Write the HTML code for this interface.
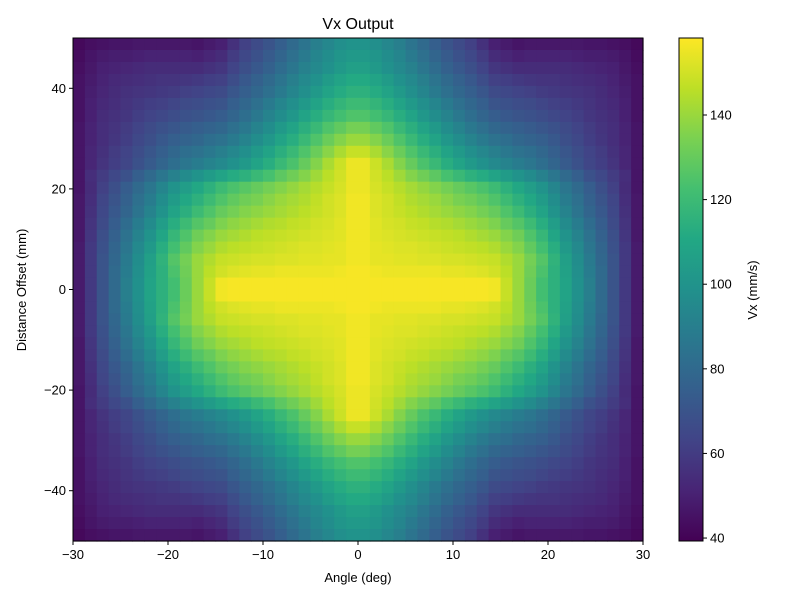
<!DOCTYPE html>
<html><head><meta charset="utf-8"><style>
body{margin:0;background:#fff}
svg{display:block;font-family:"Liberation Sans","DejaVu Sans",sans-serif}
</style></head><body>
<svg id="chart" width="800" height="600" viewBox="0 0 800 600">
<rect width="800" height="600" fill="#fff"/>
<text x="358" y="29" font-size="16" text-anchor="middle">Vx Output</text>
<g id="cells"></g>
<rect x="73" y="38" width="570" height="503" fill="none" stroke="#000" stroke-width="1"/>
<g id="xticks"></g>
<g id="yticks"></g>
<text x="358" y="582" font-size="13" text-anchor="middle">Angle (deg)</text>
<text transform="translate(26,290) rotate(-90)" font-size="13" text-anchor="middle">Distance Offset (mm)</text>
<defs><linearGradient id="cbg" x1="0" y1="1" x2="0" y2="0">
<stop offset="0" stop-color="#440154"/><stop offset="0.1" stop-color="#482475"/><stop offset="0.2" stop-color="#414487"/><stop offset="0.3" stop-color="#355f8d"/><stop offset="0.4" stop-color="#2a788e"/><stop offset="0.5" stop-color="#21918c"/><stop offset="0.6" stop-color="#22a884"/><stop offset="0.7" stop-color="#44bf70"/><stop offset="0.8" stop-color="#7ad151"/><stop offset="0.9" stop-color="#bddf26"/><stop offset="1" stop-color="#fde725"/>
</linearGradient></defs>
<rect x="679" y="38" width="24" height="503" fill="url(#cbg)" stroke="#000" stroke-width="1"/>
<g id="cbticks"></g>
<text transform="translate(757,290) rotate(-90)" font-size="13" text-anchor="middle">Vx (mm/s)</text>
</svg>
<script>
// Top-left quadrant of Vx values (rows top -> center, cols left -> center); mirrored to the other quadrants
const quadRows = [
[42,44,45,46,46,47,47,47,47,47,46,48,50,56,62,66,70,75,80,85,90,94,98,100],
[43,46,48,49,49,50,51,51,51,51,50,52,54,60,65,69,73,78,83,88,93,97,101,103],
[44,47,50,51,52,53,54,54,54,54,54,56,58,63,68,72,76,81,86,91,95,99,103,106],
[45,48,51,53,54,55,56,57,57,58,59,61,62,67,72,76,80,85,90,95,99,104,108,111],
[45,49,52,54,56,57,58,59,60,62,63,65,66,71,75,79,83,88,93,98,103,108,112,115],
[45,50,53,55,57,59,61,62,64,66,67,69,70,75,79,83,88,93,98,103,108,113,117,120],
[45,50,54,56,58,61,63,65,67,69,70,72,74,78,82,87,92,97,102,108,113,118,122,125],
[46,51,55,57,60,63,66,69,71,73,75,77,79,83,87,92,97,103,108,114,119,125,129,133],
[46,51,55,58,61,65,68,72,75,77,79,82,84,88,92,97,102,108,113,119,125,131,136,140],
[46,52,56,60,63,67,71,75,79,82,84,87,90,94,98,103,108,114,119,125,131,137,143,148],
[46,52,57,61,64,69,73,78,82,86,89,92,95,99,103,108,113,119,124,130,136,143,149,155],
[46,55,60,65,69,75,80,86,91,96,100,104,108,112,115,119,123,128,132,136,141,146,150,155],
[46,54,62,68,74,80,86,93,100,105,110,115,120,124,127,130,133,136,139,142,145,148,151,155],
[47,55,64,70,76,83,89,97,104,110,115,120,125,129,132,134,137,140,142,144,147,150,152,156],
[47,56,65,72,78,85,92,100,108,114,120,125,130,133,136,138,140,142,144,146,148,150,152,156],
[47,57,66,74,81,89,96,105,113,120,126,130,135,138,140,142,144,145,147,148,150,151,153,156],
[47,58,68,76,84,92,100,109,118,125,132,136,140,142,144,146,147,148,149,150,151,152,153,156],
[48,59,69,78,86,95,103,113,122,129,136,140,144,146,147,148,149,150,151,152,152,153,154,156],
[48,59,70,79,88,97,106,116,126,133,140,144,148,149,150,151,151,152,152,153,153,154,154,156],
[48,59,70,80,89,98,107,115,124,132,140,146,150,152,153,154,154,155,155,155,155,155,156,157],
[48,59,70,80,90,99,108,115,122,131,140,148,156,157,157,157,157,157,157,157,157,157,157,157]
];
const xTickLabels = [-30,-20,-10,0,10,20,30];
const yTickLabels = [-40,-20,0,20,40];
const cbTickLabels = [40,60,80,100,120,140];
const vMin = 39.3, vMax = 158.2;

const NS = "http://www.w3.org/2000/svg";
const PX0 = 73, PX1 = 643, PY0 = 38, PY1 = 541;
const xScale = v => PX0 + (v + 30) / 60 * (PX1 - PX0);
const yScale = v => PY1 - (v + 50) / 100 * (PY1 - PY0);
const cScale = v => PY1 - (v - vMin) / (vMax - vMin) * (PY1 - PY0);
const stops = ["#440154","#482475","#414487","#355f8d","#2a788e","#21918c","#22a884","#44bf70","#7ad151","#bddf26","#fde725"].map(h => [parseInt(h.slice(1,3),16),parseInt(h.slice(3,5),16),parseInt(h.slice(5,7),16)]);
function viridis(v){
  let t = Math.max(0, Math.min(1, (v - vMin) / (vMax - vMin))) * 10;
  let i = Math.min(9, Math.floor(t)), f = t - i;
  const a = stops[i], b = stops[i+1];
  return "rgb(" + a.map((c,k) => Math.round(c + (b[k]-c)*f)).join(",") + ")";
}
function mk(tag, attrs, parent){ const e = document.createElementNS(NS, tag); for (const k in attrs) e.setAttribute(k, attrs[k]); parent.appendChild(e); return e; }

const nQR = quadRows.length, nQC = quadRows[0].length;
const nR = nQR*2, nC = nQC*2;
const cw = (PX1-PX0)/nC, ch = (PY1-PY0)/nR;
const cellsG = document.getElementById("cells");
for (let r = 0; r < nR; r++){
  const qr = r < nQR ? r : nR-1-r;
  for (let c = 0; c < nC; c++){
    const qc = c < nQC ? c : nC-1-c;
    const v = quadRows[qr][qc];
    const x = xScale(-30 + c*60/nC), y = yScale(50 - r*100/nR);
    const el = mk("rect", {x: x.toFixed(2), y: y.toFixed(2), width: (cw+0.6).toFixed(2), height: (ch+0.6).toFixed(2), fill: viridis(v)}, cellsG);
    
    
  }
}
const xg = document.getElementById("xticks");
xTickLabels.forEach(v => {
  const x = xScale(v);
  const t = mk("line", {x1:x, x2:x, y1:PY1, y2:PY1+4, stroke:"#000"}, xg);
  
  
  const l = mk("text", {x:x, y:PY1+18, "font-size":13, "text-anchor":"middle"}, xg);
  l.textContent = String(v).replace("-", "\u2212");
  
  
});
const yg = document.getElementById("yticks");
yTickLabels.forEach(v => {
  const y = yScale(v);
  const t = mk("line", {x1:PX0-4, x2:PX0, y1:y, y2:y, stroke:"#000"}, yg);
  
  
  const l = mk("text", {x:PX0-7, y:y+4.5, "font-size":13, "text-anchor":"end"}, yg);
  l.textContent = String(v).replace("-", "\u2212");
  
  
});
const cg = document.getElementById("cbticks");
cbTickLabels.forEach(v => {
  const y = cScale(v);
  const t = mk("line", {x1:703, x2:707, y1:y, y2:y, stroke:"#000"}, cg);
  
  
  const l = mk("text", {x:710, y:y+4.5, "font-size":13}, cg);
  l.textContent = v;
  
  
});
</script>
</body></html>
